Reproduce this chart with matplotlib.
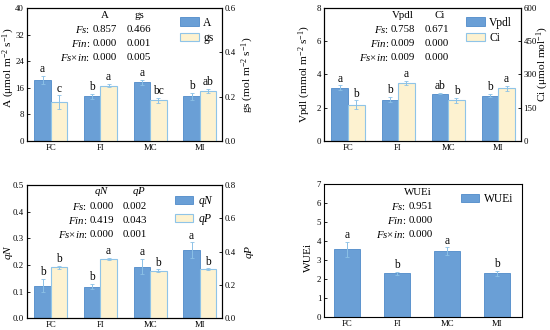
import numpy as np
import matplotlib
matplotlib.use("Agg")
import matplotlib.pyplot as plt
from matplotlib.patches import Patch

plt.rcParams['font.family'] = ['Liberation Serif', 'DejaVu Serif']
plt.rcParams['mathtext.fontset'] = 'custom'
plt.rcParams['mathtext.rm'] = 'Liberation Serif'
plt.rcParams['mathtext.it'] = 'Liberation Serif:italic'

groups = ['FC', 'FI', 'MC', 'MI']

# panel 1
A_val = [18.3, 13.4, 17.6, 13.4]
A_err = [1.2, 0.8, 0.7, 1.0]
A_let = ['a', 'b', 'a', 'b']
gs_val = [0.174, 0.249, 0.183, 0.225]
gs_err = [0.032, 0.007, 0.010, 0.010]
gs_let = ['c', 'a', 'bc', 'ab']
A_stats = [['0.857', '0.466'], ['0.000', '0.001'], ['0.000', '0.005']]

# panel 2
vp_val = [3.20, 2.48, 2.85, 2.72]
vp_err = [0.15, 0.15, 0.05, 0.10]
vp_let = ['a', 'b', 'ab', 'b']
ci_val = [163, 261, 183, 237]
ci_err = [20, 10, 12, 12]
ci_let = ['b', 'a', 'b', 'a']
vp_stats = [['0.758', '0.671'], ['0.009', '0.000'], ['0.009', '0.000']]

# panel 3
qn_val = [0.122, 0.118, 0.194, 0.255]
qn_err = [0.025, 0.010, 0.030, 0.030]
qn_let = ['b', 'b', 'a', 'a']
qp_val = [0.305, 0.355, 0.285, 0.295]
qp_err = [0.010, 0.008, 0.008, 0.005]
qp_let = ['b', 'a', 'b', 'b']
qn_stats = [['0.000', '0.002'], ['0.419', '0.043'], ['0.000', '0.001']]

# panel 4
wue_val = [3.57, 2.30, 3.48, 2.30]
wue_err = [0.40, 0.10, 0.20, 0.12]
wue_let = ['a', 'b', 'a', 'b']
wue_stats = ['0.951', '0.000', '0.000']

row_labels = [r'$Fs$:', r'$Fin$:', r'$Fs$×$in$:']

BLUE = '#6a9fd6'
BLUE_E = '#4f8bc9'
YEL = '#fdf2d0'
YEL_E = '#8fc4e8'
ERR = '#8cc1e6'
FS = 7.8

fig = plt.figure(figsize=(5.5, 3.3), dpi=100)


def style(ax):
    ax.tick_params(direction='in', labelsize=6.3, length=2.5, width=0.6, pad=2)
    for s in ax.spines.values():
        s.set_linewidth(0.8)


def letters(ax, xs, vals, errs, labs):
    for x, v, e, l in zip(xs, vals, errs, labs):
        ax.annotate(l, (x, v + e), xytext=(0, 0.5), textcoords='offset points',
                    ha='center', va='bottom', fontsize=8.3)


def legend(ax, handles, names):
    ax.legend(handles, names, loc='upper right', frameon=False, fontsize=8.3,
              handlelength=1.6, handleheight=0.75, borderaxespad=0.35,
              labelspacing=0.3, handletextpad=0.4)


def two_axis(rect, v1, e1, l1, v2, e2, l2, ylim1, yt1, ylim2, yt2,
             ylab1, ylab2, names, stats, hx, cx, yrows, colon_x, lpos, rpos):
    ax = fig.add_axes(rect)
    ax2 = ax.twinx()
    x = np.arange(len(groups))
    w = 0.33
    ax.bar(x - w / 2, v1, w, color=BLUE, edgecolor=BLUE_E, linewidth=0.6, zorder=2)
    ax.errorbar(x - w / 2, v1, yerr=e1, fmt='none', ecolor=ERR, elinewidth=0.7,
                capsize=1.2, capthick=0.6, zorder=3)
    ax2.bar(x + w / 2, v2, w, color=YEL, edgecolor=YEL_E, linewidth=0.8, zorder=2)
    ax2.errorbar(x + w / 2, v2, yerr=e2, fmt='none', ecolor=ERR, elinewidth=0.7,
                 capsize=1.2, capthick=0.6, zorder=3)
    letters(ax, x - w / 2, v1, e1, l1)
    letters(ax2, x + w / 2, v2, e2, l2)
    ax.set_xlim(-0.48, 3.45)
    ax.set_xticks(x)
    ax.set_xticklabels(groups)
    ax.set_ylim(*ylim1)
    ax.set_yticks(yt1)
    ax2.set_ylim(*ylim2)
    ax2.set_yticks(yt2)
    ax.set_ylabel(ylab1, fontsize=8.2)
    ax.yaxis.set_label_coords(*lpos)
    ax2.set_ylabel(ylab2, fontsize=8.2, rotation=90)
    ax2.yaxis.set_label_coords(*rpos)
    style(ax)
    style(ax2)
    ax.tick_params(axis='x', length=0)
    ax2.yaxis.set_major_formatter(matplotlib.ticker.FuncFormatter(
        lambda v, p: ('%.1f' % v) if ylim2[1] < 5 else '%d' % v))
    # stats text
    ax2.text(hx[0], yrows[0], names[0], transform=ax.transAxes, ha='center', va='center', fontsize=FS)
    ax2.text(hx[1], yrows[0], names[1], transform=ax.transAxes, ha='center', va='center', fontsize=FS)
    for i, lab in enumerate(row_labels):
        ax2.text(colon_x, yrows[i + 1], lab, transform=ax.transAxes, ha='right', va='center', fontsize=FS)
        ax2.text(cx[0], yrows[i + 1], stats[i][0], transform=ax.transAxes, ha='center', va='center', fontsize=FS)
        ax2.text(cx[1], yrows[i + 1], stats[i][1], transform=ax.transAxes, ha='center', va='center', fontsize=FS)
    handles = [Patch(facecolor=BLUE, edgecolor=BLUE_E, linewidth=0.6),
               Patch(facecolor=YEL, edgecolor=YEL_E, linewidth=0.8)]
    legend(ax2, handles, names)
    return ax, ax2


two_axis([0.049, 0.573, 0.355, 0.403], A_val, A_err, A_let, gs_val, gs_err, gs_let,
         (0, 40), [0, 8, 16, 24, 32, 40], (0, 0.6), [0, 0.2, 0.4, 0.6],
         r'A (μmol m$^{-2}$ s$^{-1}$)', r'gs (mol m$^{-2}$ s$^{-1}$)',
         ['A', 'gs'], A_stats, (0.397, 0.576), (0.397, 0.574),
         [0.942, 0.836, 0.733, 0.630], 0.323, (-0.052, 0.55), (1.092, 0.5))

two_axis([0.589, 0.573, 0.358, 0.403], vp_val, vp_err, vp_let, ci_val, ci_err, ci_let,
         (0, 8), [0, 2, 4, 6, 8], (0, 600), [0, 150, 300, 450, 600],
         r'Vpdl (mmol m$^{-2}$ s$^{-1}$)', r'Ci (μmol mol$^{-1}$)',
         ['Vpdl', 'Ci'], vp_stats, (0.40, 0.59), (0.398, 0.574),
         [0.94, 0.835, 0.73, 0.625], 0.33, (-0.056, 0.5), (1.07, 0.58))

two_axis([0.049, 0.036, 0.355, 0.403], qn_val, qn_err, qn_let, qp_val, qp_err, qp_let,
         (0, 0.5), [0, 0.1, 0.2, 0.3, 0.4, 0.5], (0, 0.8), [0, 0.2, 0.4, 0.6, 0.8],
         r'$qN$', r'$qP$',
         [r'$qN$', r'$qP$'], qn_stats, (0.382, 0.573), (0.385, 0.554),
         [0.95, 0.842, 0.736, 0.63], 0.31, (-0.062, 0.5), (1.108, 0.5))

# panel 4
ax = fig.add_axes([0.589, 0.039, 0.36, 0.403])
x = np.arange(len(groups))
ax.bar(x, wue_val, 0.52, color=BLUE, edgecolor=BLUE_E, linewidth=0.6, zorder=2)
ax.errorbar(x, wue_val, yerr=wue_err, fmt='none', ecolor=ERR, elinewidth=0.7,
            capsize=1.2, capthick=0.6, zorder=3)
letters(ax, x, wue_val, wue_err, wue_let)
ax.set_xlim(-0.47, 3.5)
ax.set_xticks(x)
ax.set_xticklabels(groups)
ax.set_ylim(0, 7)
ax.set_yticks(range(8))
ax.set_ylabel('WUEi', fontsize=8.2)
ax.yaxis.set_label_coords(-0.056, 0.45)
style(ax)
ax.tick_params(axis='x', length=0)
ax.text(0.476, 0.94, 'WUEi', transform=ax.transAxes, ha='center', va='center', fontsize=FS)
for i, lab in enumerate(row_labels):
    yy = [0.83, 0.725, 0.62][i]
    ax.text(0.415, yy, lab, transform=ax.transAxes, ha='right', va='center', fontsize=FS)
    ax.text(0.428, yy, wue_stats[i], transform=ax.transAxes, ha='left', va='center', fontsize=FS)
legend(ax, [Patch(facecolor=BLUE, edgecolor=BLUE_E, linewidth=0.6)], ['WUEi'])

fig.savefig('out.png', dpi=100)
